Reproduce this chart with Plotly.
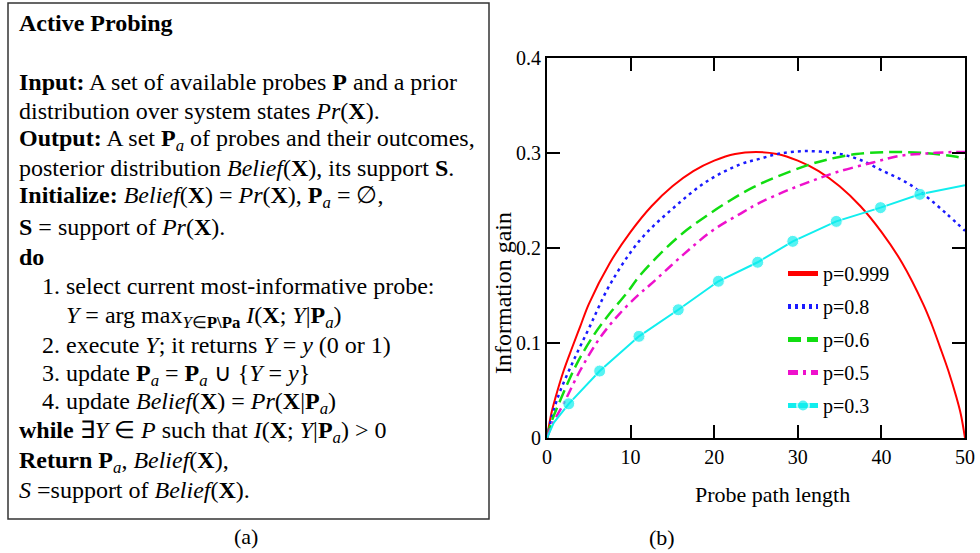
import plotly.graph_objects as go

W, H = 980, 553
def px(x): return x / W
def py(y): return 1 - y / H

# ---------------- data ----------------
red_x = [0, 0.5, 1, 2, 3, 4, 5, 7.5, 10, 12.5, 15, 17.5, 20, 22.5, 25, 27.5, 30, 32.5, 35, 37.5, 40, 42.5, 45, 46, 47, 48, 49, 49.5, 50]
red_y = [0, 0.025, 0.042, 0.071, 0.095, 0.118, 0.141, 0.184, 0.217, 0.244, 0.265, 0.281, 0.292, 0.299, 0.301, 0.299, 0.292, 0.281, 0.265, 0.244, 0.217, 0.184, 0.141, 0.120, 0.096, 0.071, 0.042, 0.025, 0]

blue_x = [0, 0.5, 1, 1.6, 3.2, 5.1, 7.5, 11.1, 15.1, 19.1, 23.1, 25.5, 27.9, 31.1, 34.7, 37.4, 40.2, 43.0, 45.4, 47.8, 50]
blue_y = [0, 0.020, 0.035, 0.050, 0.082, 0.117, 0.161, 0.208, 0.242, 0.270, 0.288, 0.294, 0.2995, 0.302, 0.2995, 0.293, 0.281, 0.269, 0.254, 0.236, 0.218]

green_x = [0, 0.5, 1.6, 3.5, 5.5, 7.5, 9.5, 11.1, 13.9, 16.3, 19.1, 21.9, 24.7, 27.5, 31.1, 33.5, 37.0, 41.0, 45.0, 49.0, 50]
green_y = [0, 0.016, 0.040, 0.077, 0.107, 0.131, 0.152, 0.171, 0.197, 0.216, 0.234, 0.250, 0.264, 0.275, 0.287, 0.293, 0.299, 0.301, 0.300, 0.296, 0.294]

mag_x = [0, 0.5, 2.0, 4.0, 6.3, 8.7, 11.1, 12.3, 16.3, 19.9, 23.5, 25.3, 28.3, 31.5, 34.7, 39.0, 42.2, 45.4, 48.6, 50]
mag_y = [0, 0.012, 0.0365, 0.0716, 0.105, 0.131, 0.152, 0.161, 0.193, 0.219, 0.238, 0.247, 0.259, 0.270, 0.280, 0.290, 0.297, 0.2995, 0.301, 0.301]

cyan_x = [0, 0.8, 2.6, 6.3, 11.0, 15.7, 20.5, 25.2, 29.4, 34.6, 39.9, 44.6, 50]
cyan_y = [0, 0.016, 0.036, 0.0705, 0.107, 0.135, 0.165, 0.185, 0.207, 0.228, 0.2425, 0.2565, 0.266]
cyan_marked = [False, False, True, True, True, True, True, True, True, True, True, True, False]

series_names = ["p=0.999", "p=0.8", "p=0.6", "p=0.5", "p=0.3"]
x_ticks = [0, 10, 20, 30, 40, 50]
y_ticks = [0, 0.1, 0.2, 0.3, 0.4]
y_tick_text = ["0", "0.1", "0.2", "0.3", "0.4"]

FONT = "Liberation Serif"

fig = go.Figure()
fig.add_trace(go.Scatter(x=red_x, y=red_y, mode="lines", name=series_names[0], legendgroup="a",
                         line=dict(color="#ff0000", width=2, shape="spline")))
fig.add_trace(go.Scatter(x=blue_x, y=blue_y, mode="lines", name=series_names[1], legendgroup="b",
                         line=dict(color="#1a1aff", width=2.5, dash="3px,4px", shape="spline")))
fig.add_trace(go.Scatter(x=green_x, y=green_y, mode="lines", name=series_names[2], legendgroup="c",
                         line=dict(color="#11dd11", width=2.5, dash="13px,6px", shape="spline")))
fig.add_trace(go.Scatter(x=mag_x, y=mag_y, mode="lines", name=series_names[3], legendgroup="d",
                         line=dict(color="#ee11cc", width=2.5, dash="10px,5px,3px,5px", shape="spline")))
fig.add_trace(go.Scatter(x=cyan_x, y=cyan_y, mode="lines+markers", name=series_names[4], legendgroup="e",
                         line=dict(color="#11eeee", width=2),
                         marker=dict(color="#11eeee", size=[12 if m else 0 for m in cyan_marked])))

axis_common = dict(showline=True, linecolor="black", linewidth=2, mirror="ticks",
                   ticks="inside", ticklen=13, tickwidth=1.5, tickcolor="black",
                   showgrid=False, zeroline=False, automargin=False,
                   tickfont=dict(family=FONT, size=20, color="black"))
fig.update_xaxes(domain=[px(547), px(965)], range=[0, 50], tickvals=x_ticks, **axis_common)
fig.update_yaxes(domain=[py(438), py(58)], range=[0, 0.4], tickvals=y_ticks,
                 ticktext=y_tick_text, **axis_common)

anns = []
anns.append(dict(text="Information gain", x=px(503), y=py(293), textangle=-90,
                 font=dict(family=FONT, size=24, color="black")))
anns.append(dict(text="Probe path length", x=px(772), y=py(494),
                 font=dict(family=FONT, size=22, color="black")))
anns.append(dict(text="(b)", x=px(662), y=py(537), font=dict(family=FONT, size=22, color="black")))
anns.append(dict(text="(a)", x=px(246), y=py(536), font=dict(family=FONT, size=22, color="black")))

Pa = "<b>P</b><sub><i>a</i></sub>"
X = "<b>X</b>"
lines = [
    (17, 23, "<b>Active Probing</b>"),
    (17, 82, "<b>Input:</b> A set of available probes <b>P</b> and a prior"),
    (17, 111, f"distribution over system states <i>Pr</i>({X})."),
    (17, 140, f"<b>Output:</b> A set {Pa} of probes and their outcomes,"),
    (17, 168, f"posterior distribution <i>Belief</i>({X}), its support <b>S</b>."),
    (17, 197, f"<b>Initialize:</b> <i>Belief</i>({X}) = <i>Pr</i>({X}), {Pa} = ∅,"),
    (17, 227, f"<b>S</b> = support of <i>Pr</i>({X})."),
    (17, 257, "<b>do</b>"),
    (40, 286, "1. select current most-informative probe:"),
    (64, 317, f"<i>Y</i> = arg max<sub><i>Y</i>∈<b>P\\Pa</b></sub> <i>I</i>({X}; <i>Y</i>|{Pa})"),
    (40, 345, "2. execute <i>Y</i>; it returns <i>Y</i> = <i>y</i> (0 or 1)"),
    (40, 375, f"3. update {Pa} = {Pa} ∪ {{<i>Y</i> = <i>y</i>}}"),
    (40, 403, f"4. update <i>Belief</i>({X}) = <i>Pr</i>({X}|{Pa})"),
    (17, 432, f"<b>while</b> ∃<i>Y</i> ∈ <i>P</i> such that <i>I</i>({X}; <i>Y</i>|{Pa}) &gt; 0"),
    (17, 462, f"<b>Return</b> {Pa}, <i>Belief</i>({X}),"),
    (17, 490, f"<i>S</i> =support of <i>Belief</i>({X})."),
]
for lx, ly, t in lines:
    anns.append(dict(text=t, x=px(lx), y=py(ly), xanchor="left", yanchor="middle",
                     font=dict(family=FONT, size=24, color="black")))
for a in anns:
    a.update(xref="paper", yref="paper", showarrow=False)
    a.setdefault("xanchor", "center")
    a.setdefault("yanchor", "middle")

fig.update_layout(
    width=W, height=H, autosize=False,
    margin=dict(l=0, r=0, t=0, b=0, pad=0, autoexpand=False),
    font=dict(family=FONT, size=20, color="black"),
    paper_bgcolor="white", plot_bgcolor="white",
    annotations=anns,
    shapes=[dict(type="rect", xref="paper", yref="paper", x0=px(8), x1=px(489), y0=py(519), y1=py(3),
                 line=dict(color="#333333", width=1.5))],
    showlegend=True,
    legend=dict(x=px(783), y=py(254), xanchor="left", yanchor="top", bgcolor="rgba(0,0,0,0)",
                font=dict(family=FONT, size=20, color="black"), tracegroupgap=4,
                itemsizing="constant"),
)

fig.write_html("out.html", config={"displayModeBar": False},
               post_script="document.body.style.margin='0';document.body.style.overflow='hidden';")
